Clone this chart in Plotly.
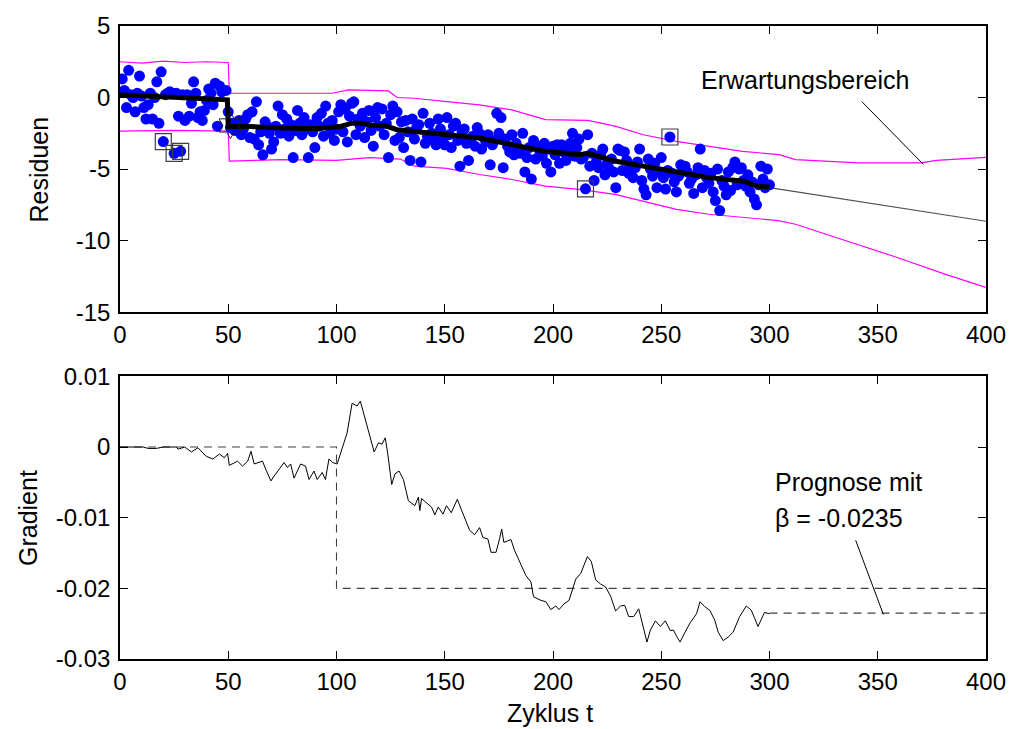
import plotly.graph_objects as go

# ---------------- data: top panel ----------------
cycles = list(range(1, 301))
residuals = [
    1.3, 0.5, -0.7, 1.9, 0.2, 0.0, -1.0, 0.3, 1.5, 0.1,
    -0.7, -1.5, -0.5, 0.3, -1.5, 0.0, 1.1, -1.8, 1.8, -3.08,
    0.2, 0.3, 0.4, 0.3, -3.9, 0.3, -1.3, -3.76, 0.2, -1.6,
    0.2, -1.3, -0.4, 1.1, 0.3, -1.4, -1.0, -1.6, -0.9, -0.2,
    0.6, 0.3, -0.5, 1.0, -2.0, 0.8, 0.4, 0.5, 0.5, -1.0,
    -2.1, -1.8, -2.3, -2.0, -1.6, -2.6, -2.2, -1.5, -1.2, -2.8,
    -1.0, -2.9, -0.3, -3.3, -2.4, -4.0, -1.7, -2.0, -2.5, -3.6,
    -3.1, -2.0, -0.6, -2.5, -1.2, -2.2, -1.5, -2.7, -1.9, -4.2,
    -2.3, -0.9, -1.8, -2.6, -1.4, -2.2, -4.2, -1.9, -2.4, -3.5,
    -1.4, -2.0, -1.1, -2.7, -0.6, -1.8, -2.5, -1.6, -3.0, -2.2,
    -1.0, -0.5, -2.4, -0.8, -3.1, -1.3, -0.4, -0.3, -2.6, -1.5,
    -2.0, -1.1, -2.8, -1.7, -0.9, -2.3, -3.4, -1.4, -0.7, -2.0,
    -0.8, -2.6, -1.8, -4.2, -1.2, -0.6, -3.0, -1.0, -2.8, -1.7,
    -3.5, -1.6, -2.4, -4.4, -1.5, -2.9, -2.1, -1.9, -4.5, -1.1,
    -3.2, -2.7, -1.8, -2.5, -3.0, -3.3, -1.5, -2.2, -2.8, -3.3,
    -1.4, -2.6, -3.5, -2.0, -1.8, -3.0, -4.8, -2.4, -2.2, -3.2,
    -4.4, -2.9, -2.7, -3.4, -2.1, -2.5, -3.6, -2.8, -3.1, -2.6,
    -4.7, -3.3, -3.0, -1.1, -2.5, -1.4, -4.9, -2.9, -3.4, -3.8,
    -2.6, -4.0, -3.2, -3.6, -3.9, -2.5, -5.2, -4.2, -3.5, -5.7,
    -3.0, -4.3, -3.4, -3.8, -4.1, -3.2, -4.6, -3.6, -5.2, -3.4,
    -4.0, -3.3, -4.6, -3.3, -3.8, -4.4, -3.6, -3.2, -2.5, -4.1,
    -3.5, -2.9, -4.3, -4.2, -6.38, -2.6, -4.8, -3.9, -5.8, -4.5,
    -4.9, -4.0, -3.6, -5.4, -4.6, -5.0, -4.3, -5.2, -6.3, -3.6,
    -3.7, -5.1, -3.8, -4.4, -5.3, -4.8, -5.6, -4.9, -4.5, -3.6,
    -5.8, -6.4, -6.8, -4.3, -5.0, -5.5, -4.6, -6.3, -5.2, -4.2,
    -5.6, -6.4, -5.1, -2.76, -5.3, -5.9, -6.6, -5.5, -4.7, -5.0,
    -4.8, -5.2, -6.0, -5.7, -6.7, -5.4, -4.9, -3.6, -6.3, -5.1,
    -5.6, -6.0, -5.3, -6.6, -7.2, -5.0, -7.9, -5.8, -6.2, -6.8,
    -5.2, -6.5, -4.9, -4.5, -6.1, -5.0, -4.9, -5.8, -6.2, -5.4,
    -6.6, -5.9, -7.1, -7.5, -6.1, -4.8, -5.7, -6.3, -5.0, -6.1,
]

est_t = [0, 15, 30, 45, 49.6, 50, 60, 75, 90, 102, 107, 112, 116, 122, 128,
         136, 151, 166, 181, 196, 212, 216, 229, 242, 257, 272, 288, 294, 300]
est_v = [0.19, 0.07, -0.05, -0.12, -0.16, -2.02, -2.02, -2.13, -2.18, -2.02,
         -1.79, -1.79, -1.95, -1.95, -2.25, -2.37, -2.6, -2.83, -3.29, -3.76,
         -3.99, -3.9, -4.45, -4.8, -5.27, -5.6, -5.85, -6.19, -6.26]

pred_t = [300, 325, 350, 375, 400]
pred_v = [-6.3, -6.88, -7.48, -8.07, -8.65]

upper_t = [0, 10, 20, 30, 40, 50, 50.5, 75, 90, 98, 105.5, 124, 128, 136, 151,
           166, 181, 196.5, 216, 228.7, 241.7, 257, 272.3, 287.6, 304.5, 312,
           341, 370, 377, 400]
upper_v = [2.5, 2.4, 2.55, 2.45, 2.5, 2.45, 0.3, 0.3, 0.35, 0.3, 0.53, 0.46,
           0.0, -0.05, -0.28, -0.51, -0.86, -1.55, -1.6, -2.0, -2.6, -3.06,
           -3.41, -3.76, -3.99, -4.34, -4.57, -4.57, -4.4, -4.18]

lower_t = [0, 25, 50, 50.5, 75, 100, 115, 129.5, 136, 151, 166, 181, 196.5,
           212, 228.7, 242, 257, 272, 288, 304, 312, 335, 359, 381, 400]
lower_v = [-2.35, -2.3, -2.35, -4.45, -4.34, -4.4, -4.2, -4.3, -4.8, -4.95,
           -5.38, -5.73, -6.19, -6.42, -6.77, -7.24, -7.82, -8.16, -8.4, -8.6,
           -8.86, -10.0, -11.18, -12.34, -13.27]

outlier_t = [20, 25, 28, 215, 254]
outlier_v = [residuals[t - 1] for t in outlier_t]

change_t = [51]
change_v = [-1.95]

# ---------------- data: bottom panel ----------------
grad_t = [0, 10.7, 13, 16.8, 19.9, 26, 26.8, 29.9, 33, 36, 39.8, 42.9, 45.9,
          48.2, 49.7, 50.5, 54.3, 56.6, 59, 60.5, 62, 65.8, 67.4, 69.7, 71.2,
          73.5, 75.8, 77.3, 78.8, 80.4, 81.9, 83.4, 85.7, 87.3, 89.6, 91.1,
          93.4, 94.9, 96.5, 98.3, 100.3, 102.6, 104.9, 107.2, 109.5, 111,
          114.8, 117.4, 119.4, 121, 122.5, 123.7, 125.5, 127, 128.9, 130.9,
          133.2, 136.2, 137.8, 138.5, 139.3, 143.9, 145.4, 147, 149.2, 150.8,
          153, 155.8, 157.6, 161.5, 163.8, 166.1, 167.6, 169.9, 171.4, 173.7,
          175.3, 176.3, 177.3, 180.6, 182.2, 185.2, 186, 187.5, 189.8, 191,
          194.4, 196.7, 199, 201.3, 202.8, 205.1, 207.4, 209, 210.5, 212.8,
          214.3, 215.9, 217.7, 219.7, 222, 224.3, 226.6, 228.9, 231.2, 233.1,
          235, 237.3, 239.6, 241.9, 243.4, 245, 247.3, 249.6, 251.9, 254.2,
          255.6, 257.3, 258.7, 261, 263.3, 266.3, 267.9, 270.1, 272.4, 274.7,
          276.3, 278.6, 280.9, 283.2, 286.2, 289.3, 291.6, 294.7, 296.2,
          297.7, 300]
grad_v = [0, 0, -0.0002, -0.0002, 0, 0, -0.0003, 0, -0.0007, -0.0001,
          -0.0013, -0.0017, -0.001, -0.0015, -0.0009, -0.0026, -0.002,
          -0.0027, -0.002, -0.0006, -0.0024, -0.002, -0.0032, -0.0048,
          -0.0041, -0.0032, -0.0022, -0.0029, -0.0024, -0.0044, -0.0034,
          -0.0024, -0.0027, -0.0046, -0.0034, -0.0046, -0.0036, -0.0046,
          -0.0017, -0.0022, -0.0024, -0.0003, 0.002, 0.0062, 0.0058, 0.0065,
          0.0022, -0.0007, 0.0006, 0.0004, 0.0013, -0.001, -0.0053, -0.0038,
          -0.0034, -0.0046, -0.0076, -0.0083, -0.0071, -0.009, -0.0073,
          -0.0085, -0.0096, -0.0085, -0.0095, -0.0083, -0.0093, -0.0074,
          -0.0088, -0.0118, -0.0124, -0.0114, -0.0128, -0.013, -0.0149,
          -0.0149, -0.013, -0.0116, -0.0135, -0.0131, -0.0146, -0.0165,
          -0.0172, -0.0182, -0.0191, -0.0212, -0.0217, -0.0219, -0.023,
          -0.0225, -0.023, -0.0222, -0.0217, -0.0203, -0.0187, -0.0179,
          -0.0167, -0.0155, -0.0162, -0.0188, -0.0194, -0.0198, -0.0211,
          -0.0232, -0.0225, -0.0224, -0.024, -0.024, -0.0229, -0.0257,
          -0.0276, -0.0259, -0.0246, -0.0254, -0.0246, -0.026, -0.0259,
          -0.0269, -0.0276, -0.0262, -0.0249, -0.0236, -0.0219, -0.0226,
          -0.0231, -0.0245, -0.0262, -0.0274, -0.0269, -0.0262, -0.024,
          -0.0225, -0.0231, -0.0254, -0.0245, -0.0234, -0.0236]

true_t = [0, 100, 100, 400]
true_v = [0, 0, -0.02, -0.02]

prog_t = [300, 400]
prog_v = [-0.0235, -0.0235]

x_ticks = [0, 50, 100, 150, 200, 250, 300, 350, 400]
y1_ticks = [-15, -10, -5, 0, 5]
y1_text = ["-15", "-10", "-5", "0", "5"]
y2_ticks = [-0.03, -0.02, -0.01, 0, 0.01]
y2_text = ["-0.03", "-0.02", "-0.01", "0", "0.01"]

FONT = "Liberation Sans, Arial, Helvetica, sans-serif"
FS = 24      # tick labels
FT = 25      # texts and axis titles

fig = go.Figure()

# top panel traces
fig.add_trace(go.Scatter(x=upper_t, y=upper_v, mode="lines",
                         line=dict(color="#FF00FF", width=1.2), xaxis="x", yaxis="y"))
fig.add_trace(go.Scatter(x=lower_t, y=lower_v, mode="lines",
                         line=dict(color="#FF00FF", width=1.2), xaxis="x", yaxis="y"))
fig.add_trace(go.Scatter(x=pred_t, y=pred_v, mode="lines",
                         line=dict(color="#505050", width=1.2), xaxis="x", yaxis="y"))
fig.add_trace(go.Scatter(x=cycles, y=residuals, mode="markers",
                         marker=dict(color="#0000FF", size=11, line=dict(width=0)),
                         xaxis="x", yaxis="y"))
fig.add_trace(go.Scatter(x=est_t, y=est_v, mode="lines",
                         line=dict(color="black", width=5), xaxis="x", yaxis="y"))
fig.add_trace(go.Scatter(x=outlier_t, y=outlier_v, mode="markers",
                         marker=dict(symbol="square-open", size=16, color="#404040",
                                     line=dict(width=1.2)),
                         xaxis="x", yaxis="y"))
fig.add_trace(go.Scatter(x=change_t, y=change_v, mode="markers",
                         marker=dict(symbol="hexagram-open", size=20, color="#202020",
                                     line=dict(width=1)),
                         xaxis="x", yaxis="y"))

# bottom panel traces
fig.add_trace(go.Scatter(x=true_t, y=true_v, mode="lines",
                         line=dict(color="#404040", width=1.1, dash="8px,6px"),
                         xaxis="x2", yaxis="y2"))
fig.add_trace(go.Scatter(x=prog_t, y=prog_v, mode="lines",
                         line=dict(color="#404040", width=1.1, dash="8px,6px"),
                         xaxis="x2", yaxis="y2"))
fig.add_trace(go.Scatter(x=grad_t, y=grad_v, mode="lines",
                         line=dict(color="black", width=1), xaxis="x2", yaxis="y2"))

axis_common = dict(showgrid=False, zeroline=False, showline=True, linecolor="black",
                   linewidth=1.5, mirror="allticks", ticks="inside", ticklen=8,
                   tickcolor="black", tickwidth=1.2,
                   tickfont=dict(family=FONT, size=FS, color="black"))

fig.update_layout(
    width=1018, height=729,
    margin=dict(l=120, r=27, t=24, b=70),
    paper_bgcolor="white", plot_bgcolor="white",
    showlegend=False,
    font=dict(family=FONT, size=FS, color="black"),
    xaxis=dict(domain=[0, 1], anchor="y", range=[0, 400], tickvals=x_ticks,
               ticklabelstandoff=0, **axis_common),
    yaxis=dict(domain=[0.548, 1], anchor="x", range=[-15, 5], tickvals=y1_ticks,
               ticktext=y1_text, ticklabelstandoff=3, **axis_common),
    xaxis2=dict(domain=[0, 1], anchor="y2", range=[0, 400], tickvals=x_ticks,
                ticklabelstandoff=0, **axis_common),
    yaxis2=dict(domain=[0, 0.4465], anchor="x2", range=[-0.03, 0.01],
                tickvals=y2_ticks, ticktext=y2_text, ticklabelstandoff=3,
                **axis_common),
)

# pointer lines
fig.add_shape(type="line", xref="x", yref="y", x0=342.6, y0=-0.28, x1=371, y1=-4.66,
              line=dict(color="black", width=1))
fig.add_shape(type="line", xref="x2", yref="y2", x0=339.8, y0=-0.0132, x1=352.6,
              y1=-0.0237, line=dict(color="black", width=1))

# texts
fig.add_annotation(text="Erwartungsbereich", xref="x", yref="y", x=267.5, y=1.2,
                   xanchor="left", yanchor="middle", showarrow=False,
                   font=dict(family=FONT, size=FT, color="black"))
fig.add_annotation(text="Prognose mit", xref="x2", yref="y2", x=301.5, y=-0.0049,
                   xanchor="left", yanchor="middle", showarrow=False,
                   font=dict(family=FONT, size=FT, color="black"))
fig.add_annotation(text="β = -0.0235", xref="x2", yref="y2", x=301.5, y=-0.0100,
                   xanchor="left", yanchor="middle", showarrow=False,
                   font=dict(family=FONT, size=FT, color="black"))
fig.add_annotation(text="Residuen", xref="paper", yref="paper", x=-0.093, y=0.774,
                   textangle=-90, xanchor="center", yanchor="middle", showarrow=False,
                   font=dict(family=FONT, size=FT, color="black"))
fig.add_annotation(text="Gradient", xref="paper", yref="paper", x=-0.106, y=0.223,
                   textangle=-90, xanchor="center", yanchor="middle", showarrow=False,
                   font=dict(family=FONT, size=FT, color="black"))
fig.add_annotation(text="Zyklus t", xref="paper", yref="paper", x=0.496, y=-0.085,
                   xanchor="center", yanchor="middle", showarrow=False,
                   font=dict(family=FONT, size=FT, color="black"))

fig.write_html("out.html")
